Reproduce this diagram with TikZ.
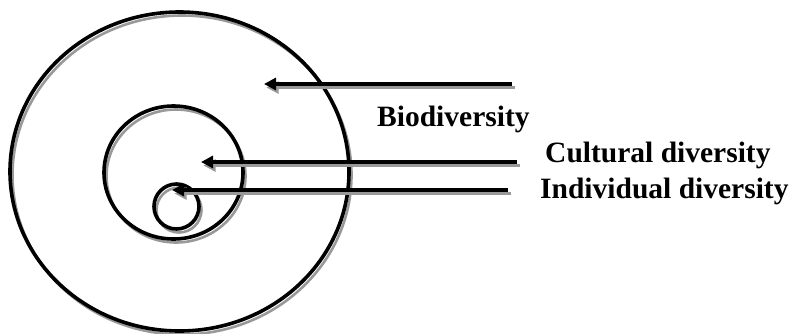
\documentclass[tikz,border=0pt]{standalone}
\usepackage{fontspec}
\setmainfont{Liberation Serif}
\usetikzlibrary{shapes.geometric,arrows.meta}
\begin{document}
\begin{tikzpicture}[x=1pt,y=-1pt,
  shade/.style={draw=black!40, line width=2.6pt},
  ring/.style={ellipse, draw, line width=3.6pt, inner sep=0pt},
  tip/.style={-{Triangle[length=12pt,width=12pt]}},
  pointer/.style={draw, line width=3.6pt, tip},
  lbl/.style={font=\fontsize{29.5}{32}\selectfont\bfseries, anchor=base west, inner sep=0pt}]
\useasboundingbox (0,0) rectangle (791,333);
% shadows
\draw[shade] (182,175) ellipse [x radius=169.5, y radius=159.5];
\draw[shade] (176,176) ellipse [x radius=69.5, y radius=66.5];
\draw[shade] (179,210) circle [radius=22.5];
% circles
\node[ring, minimum width=339pt, minimum height=319pt] (outer) at (179.5,171.5) {};
\node[ring, minimum width=139pt, minimum height=133pt] (middle) at (173.5,172.5) {};
\node[ring, minimum width=45pt, minimum height=45pt] (inner) at (176.5,206.5) {};
\coordinate (bioTail) at (512,84);
\coordinate (bioTip) at (264,84);
\coordinate (culTail) at (517,162);
\coordinate (culTip) at (201,162);
\coordinate (indTail) at (508,190);
\coordinate (indTip) at (172,190);
% arrow shadows
\draw[shade, tip] ([shift={(2.5,3.5)}]bioTail) -- ([shift={(2.5,3.5)}]bioTip);
\draw[shade, tip] ([shift={(2.5,3.5)}]culTail) -- ([shift={(2.5,3.5)}]culTip);
\draw[shade, tip] ([shift={(2.5,3.5)}]indTail) -- ([shift={(2.5,3.5)}]indTip);
% arrows
\draw[pointer] (bioTail) -- (bioTip);
\draw[pointer] (culTail) -- (culTip);
\draw[pointer] (indTail) -- (indTip);
\node[lbl] (bio) at (377,126) {Biodiversity};
\node[lbl] (cul) at (545,162) {Cultural diversity};
\node[lbl] (ind) at (540,198.5) {Individual diversity};
\end{tikzpicture}
\end{document}
